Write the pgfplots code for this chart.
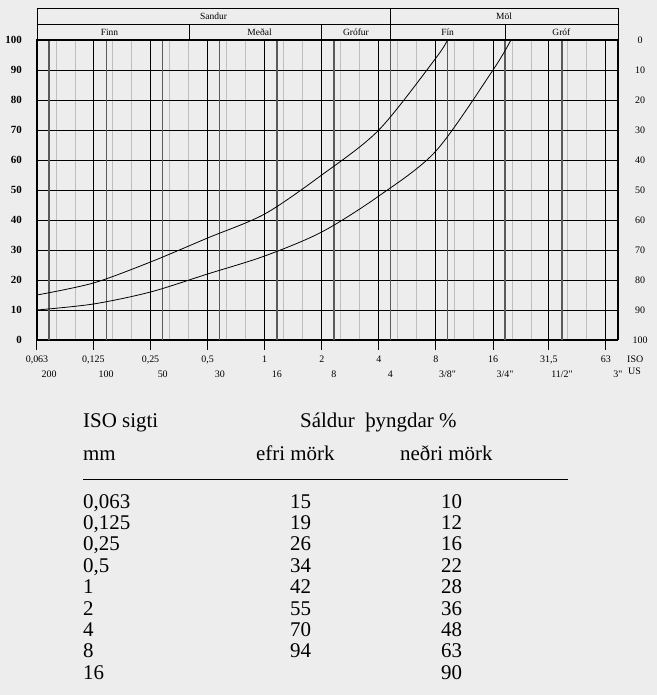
\documentclass[border=0pt]{standalone}
\usepackage{fontspec}
\setmainfont{Liberation Serif}[Ligatures=TeXOff]
\usepackage{pgfplots}
\pgfplotsset{compat=1.18}
\definecolor{bg}{HTML}{EDEDED}
\definecolor{usline}{HTML}{5A5A5A}
\definecolor{thinline}{HTML}{BEBEBE}

\begin{document}
\begin{tikzpicture}[x=1bp,y=1bp]
\fill[bg] (-37,-355) rectangle (620,340);
\useasboundingbox (-37,-355) rectangle (620,340);
\begin{axis}[
  at={(0,0)}, anchor=south west,
  scale only axis, width=581bp, height=300bp,
  xmode=log, xmin=0.063, xmax=73, ymin=0, ymax=100,
  clip=false,
  axis line style={line width=1bp},
  /pgf/number format/assume math mode=true,
  xtick={0.063,0.125,0.25,0.5,1,2,4,8,16,31.5,63},
  xticklabels={{0,063},{0,125},{0,25},{0,5},1,2,4,8,16,{31,5},63},
  xtick pos=bottom, ytick pos=left,
  tick align=outside,
  major tick length=10bp,
  xtick style={black, line width=1bp},
  ytick style={draw=none},
  xticklabel style={font=\fontsize{10}{10}\selectfont, anchor=base, yshift=-13bp},
  ytick={0,10,...,100},
  yticklabel style={font=\bfseries\fontsize{11}{11}\selectfont, inner sep=0pt, xshift=-5bp},
  xmajorgrids, ymajorgrids,
  major grid style={black, line width=0.9bp},
  minor xtick={0.0794,0.1,0.1575,0.1984,0.315,0.397,0.63,0.794,1.26,1.587,2.52,3.175,5.04,6.35,10.08,12.7,20.16,25.4,39.7,50},
  xminorgrids,
  minor grid style={thinline, line width=1bp},
  minor tick length=0pt,
  extra x ticks={0.073,0.146,0.29,0.58,1.16,2.32,4.6,9.2,18.5,37,73},
  extra x tick labels={200,100,50,30,16,8,4,{3/8"},{3/4"},{11/2"},{3"}},
  extra x tick style={
    major grid style={usline, line width=1.3bp},
    major tick length=0pt,
    xticklabel style={anchor=base, yshift=-25bp}},
]
% header bands
\draw[line width=0.8bp] (axis cs:0.063,100) rectangle (axis cs:73,110.67);
\draw[line width=0.8bp] (axis cs:0.063,105.33) -- (axis cs:73,105.33);
\draw[line width=0.8bp] (axis cs:4.6,100) -- (axis cs:4.6,110.67);
\draw[line width=0.8bp] (axis cs:0.4,100) -- (axis cs:0.4,105.33);
\draw[line width=0.8bp] (axis cs:2,100) -- (axis cs:2,105.33);
\draw[line width=0.8bp] (axis cs:18.5,100) -- (axis cs:18.5,105.33);
\begin{scope}[every node/.style={font=\fontsize{9.5}{10}\selectfont, inner sep=0pt}]
\node at (axis cs:0.538,108) {Sandur};
\node at (axis cs:18.3,108) {Möl};
\node at (axis cs:0.152,102.67) {Finn};
\node at (axis cs:0.94,102.67) {Meðal};
\node at (axis cs:3.03,102.67) {Grófur};
\node at (axis cs:9.22,102.67) {Fín};
\node at (axis cs:36.7,102.67) {Gróf};
\end{scope}
% thick right border (3" sieve)
\draw[line width=2bp] (axis cs:73,0) -- (axis cs:73,100);

\addplot[black, line width=0.8bp, smooth, tension=0.5] coordinates {
  (0.063,15) (0.125,19) (0.25,26) (0.5,34) (1,42) (2,55) (4,70) (8,94) (9.2,100)
};
\addplot[black, line width=0.8bp, smooth, tension=0.5] coordinates {
  (0.063,10) (0.125,12) (0.25,16) (0.5,22) (1,28) (2,36) (4,48) (8,63) (16,90) (19.9,100)
};
\end{axis}

% right-hand scale (percent retained)
\foreach \i in {0,...,10} {
  \pgfmathtruncatemacro{\v}{100-10*\i}
  \node[font=\fontsize{10}{10}\selectfont, inner sep=0pt] at (603,30*\i) {\v};
}
\node[font=\fontsize{10}{10}\selectfont, anchor=base west, inner sep=0pt] at (590,-23) {ISO};
\node[font=\fontsize{10}{10}\selectfont, anchor=base west, inner sep=0pt] at (591,-35) {US};

% table of limits
\begin{scope}[every node/.style={font=\fontsize{21}{21.5}\selectfont, anchor=base west, inner sep=0pt}]
\node at (46,-87) {ISO sigti};
\node at (263,-87) {Sáldur\ \ þyngdar \%};
\node at (46,-120) {mm};
\node at (219,-120) {efri mörk};
\node at (363,-120) {neðri mörk};
\node at (46,-168) {\begin{tabular}[t]{@{}l@{}}0,063\\0,125\\0,25\\0,5\\1\\2\\4\\8\\16\end{tabular}};
\node at (253,-168) {\begin{tabular}[t]{@{}l@{}}15\\19\\26\\34\\42\\55\\70\\94\end{tabular}};
\node at (404,-168) {\begin{tabular}[t]{@{}l@{}}10\\12\\16\\22\\28\\36\\48\\63\\90\end{tabular}};
\end{scope}
\draw[line width=1bp] (46,-139) -- (531,-139);
\end{tikzpicture}
\end{document}
